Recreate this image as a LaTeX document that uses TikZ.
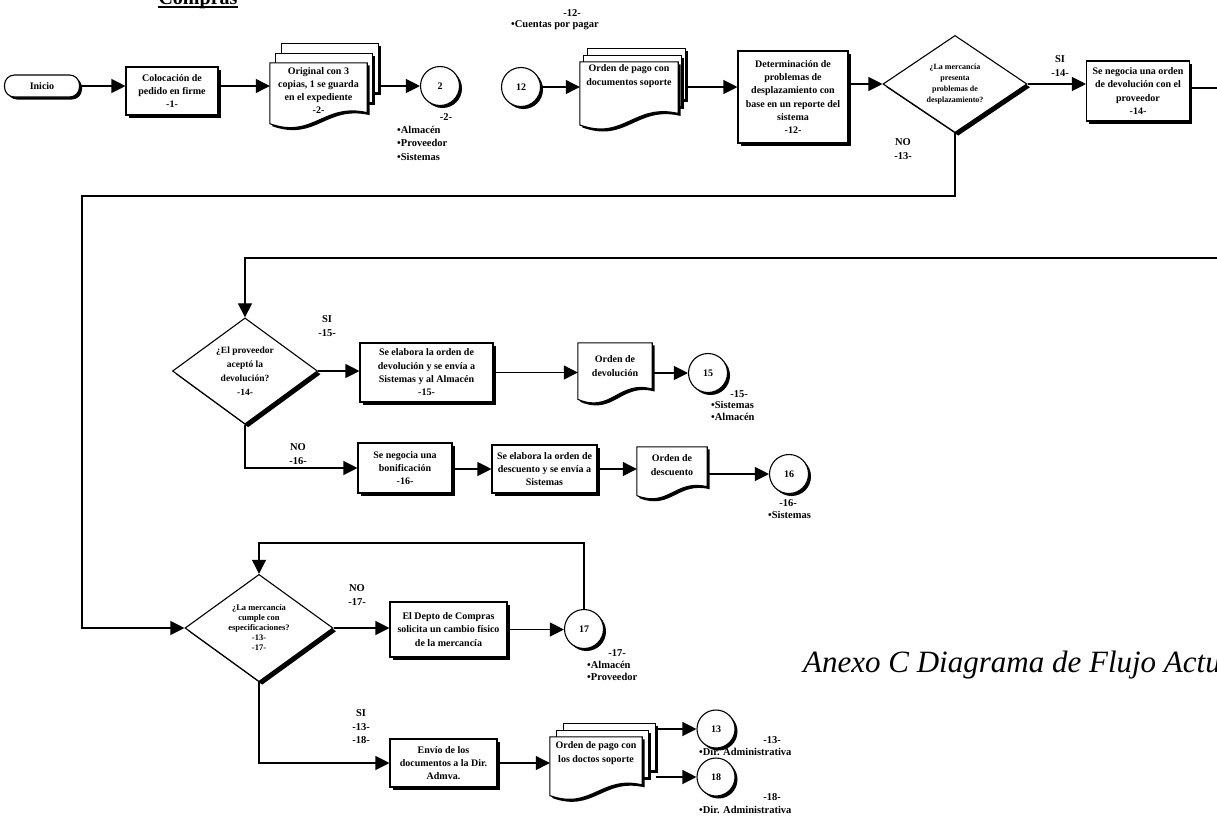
\documentclass[tikz,border=0pt]{standalone}
\usepackage{fontspec}
\setmainfont{Liberation Serif}
\usetikzlibrary{arrows.meta,shapes.geometric,shadows,calc}

\tikzset{
  txt/.style={font=\bfseries\fontsize{10}{13.3}\selectfont, align=center, inner sep=1pt},
  lab/.style={font=\bfseries\fontsize{10.5}{13.5}\selectfont, align=center, inner sep=0pt},
  shad/.style={drop shadow={shadow xshift=2.5pt, shadow yshift=-2.5pt, fill=black, opacity=1}},
  bigshad/.style={drop shadow={shadow xshift=3.2pt, shadow yshift=-3.2pt, fill=black, opacity=1}},
  proc/.style={txt, draw, fill=white, line width=1.1pt, shad},
  term/.style={proc, rounded corners=10pt, minimum width=75pt, minimum height=22pt},
  conn/.style={txt, draw, fill=white, line width=1.1pt, circle, minimum size=39pt, inner sep=0pt, shad},
  dec/.style={txt, draw, fill=white, line width=1.1pt, diamond, inner sep=0pt, bigshad},
  page/.style={draw, fill=white, line width=1pt, shad},
  docgeo/.style={rectangle, inner sep=0pt, draw=none},
  docline/.style={draw, fill=white, line width=1.1pt, shad},
  flow/.style={line width=1.1pt},
  arr/.style={flow, -{Triangle[length=14pt,width=14pt]}},
}

\newcommand{\docoutline}[1]{%
  \path[docline] (#1.north west) -- (#1.north east)
    -- ($(#1.north east)!0.9!(#1.south east)$)
    .. controls ($($(#1.north west)!0.55!(#1.north east)$)!0.72!($(#1.south west)!0.55!(#1.south east)$)$)
    and ($($(#1.north west)!0.45!(#1.north east)$)!1.38!($(#1.south west)!0.45!(#1.south east)$)$)
    .. ($(#1.north west)!1.1!(#1.south west)$) -- cycle;}

% name, cx, cy, w, hn, dx, dy
\newcommand{\multidoc}[7]{%
  \node[page, minimum width=#4pt, minimum height={0.9*#5pt}] (#1c) at ({#2+2*(#6)},{#3-0.05*(#5)+2*(#7)}) {};
  \node[page, minimum width=#4pt, minimum height={0.9*#5pt}] (#1b) at ({#2+(#6)},{#3-0.05*(#5)+(#7)}) {};
  \node[docgeo, minimum width=#4pt, minimum height=#5pt] (#1) at (#2,#3) {};
  \docoutline{#1}}

% name, cx, cy, w, hn
\newcommand{\singledoc}[5]{%
  \node[docgeo, minimum width=#4pt, minimum height=#5pt] (#1) at (#2,#3) {};
  \docoutline{#1}}

\begin{document}
\begin{tikzpicture}[x=1pt,y=-1pt]
\useasboundingbox (0,0) rectangle (1217,817);
\fill[white] (0,0) rectangle (1217,817);

% title
\node[font=\bfseries\fontsize{20}{20}\selectfont, anchor=base, inner sep=0pt] (title) at (198,4) {Compras};
\draw[line width=2pt] ([yshift=-2.5pt]title.base west) -- ([yshift=-2.5pt]title.base east);

% ---------- row 1 ----------
\node[term] (ini) at (42,86) {Inicio};
\node[proc, minimum width=92pt, minimum height=48pt] (p1) at (172,91) {Colocación de\\pedido en firme\\-1-};
\multidoc{dd}{318.5}{90.5}{97}{55}{5.5}{-10}
\node[txt] (ddt) at (dd) {Original con 3\\copias, 1 se guarda\\en el expediente\\-2-};
\node[conn] (c2) at (440,86) {2};
\node[lab] (l2a) at (446,117) {-2-};
\node[lab, align=left, anchor=north west] (l2b) at (397,126) {•Almacén\\•Proveedor\\•Sistemas};

\node[lab] (l12a) at (572,13) {-12-};
\node[lab, anchor=west] (l12b) at (511,25) {•Cuentas por pagar};
\node[conn] (c12) at (521,87) {12};
\multidoc{de}{629}{90.5}{98}{57}{3.5}{-7}
\node[txt] (det) at (629,76) {Orden de pago con\\documentos soporte};
\node[proc, minimum width=110pt, minimum height=92pt] (p12) at (793,97) {Determinación de\\problemas de\\desplazamiento con\\base en un reporte del\\sistema\\-12-};
\node[dec, minimum width=144pt, minimum height=97pt, font=\bfseries\fontsize{8}{11}\selectfont] (dec1) at (955,84) {¿La mercancía\\presenta\\problemas de\\desplazamiento?};
\node[lab] (l14) at (1060,66) {SI\\-14-};
\node[proc, minimum width=103pt, minimum height=60pt] (p14) at (1138,91) {Se negocia una orden\\de devolución con el\\proveedor\\-14-};
\node[lab] (l13) at (903,149) {NO\\-13-};

% ---------- row 2 ----------
\node[dec, minimum width=145pt, minimum height=100pt, font=\bfseries\fontsize{9.5}{14}\selectfont] (dec2) at (245,371) {¿El proveedor\\aceptó la\\devolución?\\-14-};
\node[lab] (l15s) at (327,326) {SI\\-15-};
\node[proc, minimum width=133pt, minimum height=59pt] (p15) at (426.5,372.5) {Se elabora la orden de\\devolución y se envía a\\Sistemas y al Almacén\\-15-};
\singledoc{doca}{615}{368.5}{74}{51}
\node[txt] (docat) at (615,366) {Orden de\\devolución};
\node[conn] (c15) at (708,373) {15};
\node[lab] (l15a) at (739,394) {-15-};
\node[lab, align=left, anchor=north west, font=\bfseries\fontsize{10.5}{12.5}\selectfont] (l15b) at (711,401) {•Sistemas\\•Almacén};

\node[lab] (l16n) at (298,454) {NO\\-16-};
\node[proc, minimum width=94pt, minimum height=50pt] (p16) at (405,468) {Se negocia una\\bonificación\\-16-};
\node[proc, minimum width=105pt, minimum height=48pt] (p16b) at (544.5,469) {Se elabora la orden de\\descuento y se envía a\\Sistemas};
\singledoc{docb}{672}{469}{70}{44}
\node[txt] (docbt) at (672,465) {Orden de\\descuento};
\node[conn] (c16) at (789,474) {16};
\node[lab] (l16a) at (788,503) {-16-};
\node[lab, anchor=west] (l16b) at (768,515) {•Sistemas};

% ---------- row 3 ----------
\node[dec, minimum width=148pt, minimum height=100pt, font=\bfseries\fontsize{8.5}{10}\selectfont] (dec3) at (259,628) {¿La mercancía\\cumple con\\especificaciones?\\-13-\\-17-};
\node[lab] (l17n) at (357,595) {NO\\-17-};
\node[proc, minimum width=117pt, minimum height=55pt] (p17) at (448.5,629.5) {El Depto de Compras\\solicita un cambio físico\\de la mercancía};
\node[conn] (c17) at (584,629) {17};
\node[lab] (l17a) at (617,653) {-17-};
\node[lab, align=left, anchor=north west, font=\bfseries\fontsize{10.5}{12}\selectfont] (l17b) at (587,661) {•Almacén\\•Proveedor};
\node[lab] (l18s) at (361,727) {SI\\-13-\\-18-};
\node[proc, minimum width=107pt, minimum height=48pt] (p18) at (443.5,763) {Envío de los\\documentos a la Dir.\\Admva.};
\multidoc{df}{596}{763.5}{92}{53}{6.5}{-7}
\node[txt] (dft) at (596,753) {Orden de pago con\\los doctos soporte};
\node[conn, minimum size=38pt] (c13) at (716,729) {13};
\node[conn, minimum size=38pt] (c18) at (716,777) {18};
\node[lab] (l13a) at (772,740) {-13-};
\node[lab, anchor=west] (l13b) at (699,752) {•Dir. Administrativa};
\node[lab] (l18a) at (772,797) {-18-};
\node[lab, anchor=west] (l18b) at (699,810) {•Dir. Administrativa};

\node[font=\itshape\fontsize{31}{32}\selectfont, anchor=base west, inner sep=0pt, text=black] (anexo) at (803,672) {Anexo C Diagrama de Flujo Actual};

% ---------- connectors ----------
\draw[arr] (ini.east) -- (ini.east -| p1.west);
\draw[arr] (ini.east -| p1.east) -- (ini.east -| dd.west);
\draw[arr] (c2.west -| ddc.east) -- (c2.west);
\draw[arr] (c12.east) -- (c12.east -| de.west);
\draw[arr] (c12.east -| dec.east) -- (c12.east -| p12.west);
\draw[arr] (p12.east |- dec1.west) -- (dec1.west);
\draw[arr] (dec1.east) -- (dec1.east -| p14.west);
\coordinate (e1) at (1225,88);
\draw[flow] (e1 -| p14.east) -- (e1);
\coordinate (k1) at (82,196);
\draw[arr] (dec1.south) |- (k1) |- (dec3.west);

\coordinate (e2) at (1225,258);
\draw[arr] (e2) -| (dec2.north);
\draw[arr] (dec2.east) -- (dec2.east -| p15.west);
\draw[arr] (p15.east) -- (p15.east -| doca.west);
\draw[arr] (c15.west -| doca.east) -- (c15.west);
\draw[arr] (dec2.south) |- (p16.west);
\draw[arr] (p16b.west -| p16.east) -- (p16b.west);
\draw[arr] (p16b.east) -- (p16b.east -| docb.west);
\draw[arr] (c16.west -| docb.east) -- (c16.west);

\draw[arr] (dec3.east) -- (dec3.east -| p17.west);
\draw[arr] (p17.east) -- (p17.east -| c17.west);
\coordinate (k3) at (259,543);
\draw[arr] (c17.north) |- (k3) -- (dec3.north);
\draw[arr] (dec3.south) |- (p18.west);
\draw[arr] (p18.east) -- (p18.east -| df.west);
\draw[arr] (c13.west -| dfc.east) -- (c13.west);
\draw[arr] (c18.west -| dfc.east) -- (c18.west);
\end{tikzpicture}
\end{document}
